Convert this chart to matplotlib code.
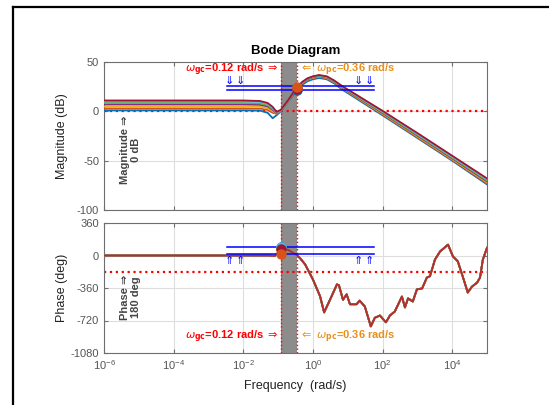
import matplotlib
matplotlib.use('Agg')
import matplotlib.pyplot as plt
from matplotlib.lines import Line2D
from matplotlib.ticker import NullLocator, FixedLocator

plt.rcParams['font.family'] = ['Liberation Sans', 'DejaVu Sans']
plt.rcParams['mathtext.fontset'] = 'dejavusans'
plt.rcParams['axes.unicode_minus'] = False

# magnitude curves (rad/s, dB), one per loop
w_mag = [1e-6, 1e-2, 0.03, 0.05, 0.07, 0.09, 0.12, 0.2, 0.36, 0.5, 0.7, 1.0, 1.5, 2.5, 4, 7, 100, 1e3, 1e4, 1e5]
mag_blue   = [1, 1, 0.8, -1.5, -7, -4, 0, 10.5, 22, 27, 30.5, 32.5, 33.8, 32.5, 28.5, 22, -4, -27, -50, -74]
mag_orange = [3, 3, 2.8, 1.5, -1.5, -2.5, 0.4, 10.9, 23.8, 28.5, 31.8, 33.7, 34.9, 33.5, 29.4, 23, -3.1, -26.2, -49.2, -73]
mag_yellow = [5, 5, 4.7, 3.2, 0.3, -2.3, 0.6, 11.1, 24, 28.8, 32.2, 34.1, 35.3, 33.9, 29.8, 23.5, -2.4, -25.4, -48.4, -72]
mag_purple = [7, 7, 6.6, 5, 1.5, -2, 0.8, 11.3, 24.2, 29.1, 32.5, 34.5, 35.7, 34.3, 30.2, 24, -1.7, -24.6, -47.6, -71]
mag_green  = [8.5, 8.5, 8, 6.2, 2.5, -1.5, 1, 11.5, 24.4, 29.4, 32.9, 34.9, 36.1, 34.7, 30.6, 24.5, -1, -23.8, -46.8, -70]
mag_cyan   = [10, 10, 9.5, 7.5, 3.5, -1, 1.2, 11.7, 24.7, 29.7, 33.2, 35.2, 36.5, 35.1, 31.1, 25, -0.3, -23, -46, -69]
mag_red    = [11, 11, 10.5, 8.5, 4.5, -0.5, 1.5, 12, 25, 30, 33.5, 35.5, 36.8, 35.5, 31.5, 25.5, 0.5, -22, -45, -68]

# phase (deg), identical for all loops
w_ph = [1e-6, 0.05, 0.08, 0.1, 0.13, 0.2, 0.36, 0.45, 0.6, 1.0, 1.6, 2.1, 3.1, 4.9, 5.6, 7.3, 9.3, 11.6,
        18, 22, 31, 46, 60, 84, 125, 163, 225, 360, 440, 540, 740, 970, 1370, 1870, 2300, 3200, 4500,
        7600, 10500, 14500, 20000, 28000, 37000, 52000, 63000, 76000, 1e5]
phase = [0, 0, -5, 30, 80, 60, 0, -40, -100, -265, -450, -630, -490, -320, -330, -490, -430, -540,
         -540, -500, -565, -785, -690, -665, -740, -665, -620, -455, -575, -475, -510, -375, -365, -245, -230, -45, 45,
         120, -10, -65, -230, -410, -345, -300, -245, -45, 85]

colors = ['#0072BD', '#D95319', '#EDB120', '#7E2F8E', '#77AC30', '#4DBEEE', '#A2142F']
mags = [mag_blue, mag_orange, mag_yellow, mag_purple, mag_green, mag_cyan, mag_red]

w_gc = 0.12
w_pc = 0.36
mag_at_pc = [21.5, 24.5, 24, 24, 23.5, 23.5, 23]
ph_at_gc = [95, 20, 85, 80, 75, 90, 70]

# margin guide lines
band_w = [0.0033, 56]
mag_guides = [25.5, 22]
ph_guides = [95, 20]
mag_ref = 0
ph_ref = -180

grey = '#6e6e6e'
fig = plt.figure(figsize=(5.49, 4.05), dpi=100)
ax1 = fig.add_axes([104/549, 1-210/405, 383/549, 148/405])
ax2 = fig.add_axes([104/549, 1-353/405, 383/549, 130/405])

for ax in (ax1, ax2):
    ax.set_xscale('log')
    ax.set_xlim(1e-6, 1e5)
    ax.xaxis.set_major_locator(FixedLocator([1e-6, 1e-4, 1e-2, 1e0, 1e2, 1e4]))
    ax.xaxis.set_minor_locator(NullLocator())
    ax.grid(True, color='#dedede', lw=0.8)
    ax.set_axisbelow(True)
    ax.tick_params(direction='in', top=True, right=True, length=3, colors=grey,
                   labelcolor='#555555', labelsize=8)
    for s in ax.spines.values():
        s.set_color(grey)
    ax.axvspan(w_gc, w_pc, color='#8c8c8c', zorder=1.5, lw=0)
    ax.axvline(w_gc, color='red', ls=':', lw=1, zorder=1.6)
    ax.axvline(w_pc, color='red', ls=':', lw=1, zorder=1.6)

ax1.set_ylim(-100, 50)
ax1.set_yticks([50, 0, -50, -100])
ax1.tick_params(labelbottom=False)
ax2.set_ylim(-1080, 360)
ax2.set_yticks([360, 0, -360, -720, -1080])

for m, c in zip(mags, colors):
    ax1.plot(w_mag, m, color=c, lw=1.3, zorder=3)

# phase curves all coincide; the last ones drawn show through
ph_order = [0, 2, 3, 4, 5, 1, 6]
for i in ph_order:
    ax2.plot(w_ph, phase, color=colors[i], lw=1.3, zorder=3,
             alpha=0.6 if i == 6 else 1.0)

ax1.axhline(mag_ref, color='red', ls=':', lw=1.6, zorder=2.5)
ax2.axhline(ph_ref, color='red', ls=':', lw=1.6, zorder=2.5)

for g in mag_guides:
    ax1.plot(band_w, [g, g], color='#0000ff', lw=1.1, zorder=4)
for g in ph_guides:
    ax2.plot(band_w, [g, g], color='#0000ff', lw=1.1, zorder=4)

order = [0, 2, 3, 4, 5, 6, 1]
for i in order:
    ax1.plot([w_pc], [mag_at_pc[i]], 'o', color=colors[i], ms=6.5, zorder=5)
    ax2.plot([w_gc], [ph_at_gc[i]], 'o', color=colors[i], ms=6.5, zorder=5)

# arrows pointing at the guide lines
for xa in [0.0041, 0.0085, 19.7, 40.6]:
    ax1.text(xa, 25.5, '\u21d3', color='#0000ff', fontsize=8, ha='center', va='bottom',
             family=['DejaVu Sans'], zorder=6)
    ax2.text(xa, -5, '\u21d1', color='#0000ff', fontsize=8, ha='center', va='top',
             family=['DejaVu Sans'], zorder=6)

# crossover labels
gc_txt = r'$\omega_{\mathbf{gc}}$=0.12 rad/s $\Rightarrow$'
pc_txt = r'$\Leftarrow\ \omega_{\mathbf{pc}}$=0.36 rad/s'
ax1.text(0.107, 42.5, gc_txt, color='red', fontsize=8, fontweight='bold', ha='right', va='center', zorder=6)
ax1.text(0.41, 42.5, pc_txt, color='#E8901C', fontsize=8, fontweight='bold', ha='left', va='center', zorder=6)
ax2.text(0.107, -905, gc_txt, color='red', fontsize=8, fontweight='bold', ha='right', va='center', zorder=6)
ax2.text(0.41, -905, pc_txt, color='#E8901C', fontsize=8, fontweight='bold', ha='left', va='center', zorder=6)

ax1.text(0.07, 0.64, 'Magnitude \u21d2\n0 dB', transform=ax1.transAxes, rotation=90,
         ha='center', va='top', multialignment='center', fontsize=8, fontweight='bold',
         color='#444444', linespacing=1.1)
ax2.text(0.07, 0.6, 'Phase \u21d2\n180 deg', transform=ax2.transAxes, rotation=90,
         ha='center', va='top', multialignment='center', fontsize=8, fontweight='bold',
         color='#444444', linespacing=1.1)

ax1.set_title('Bode Diagram', fontweight='bold', fontsize=9.5, pad=6)
ax1.set_ylabel('Magnitude (dB)', fontsize=9, color='#222222')
ax2.set_ylabel('Phase (deg)', fontsize=9, color='#222222')
ax1.yaxis.set_label_coords(-0.094, 0.5)
ax2.yaxis.set_label_coords(-0.094, 0.5)
ax2.set_xlabel('Frequency  (rad/s)', fontsize=9, color='#222222', labelpad=6)

# outer frame
fig.add_artist(Line2D([13/549, 13/549], [0, 1-6.5/405], color='k', lw=1.6))
fig.add_artist(Line2D([13/549, 1], [1-6.5/405, 1-6.5/405], color='k', lw=1.6))

fig.savefig('out.png', dpi=100)
